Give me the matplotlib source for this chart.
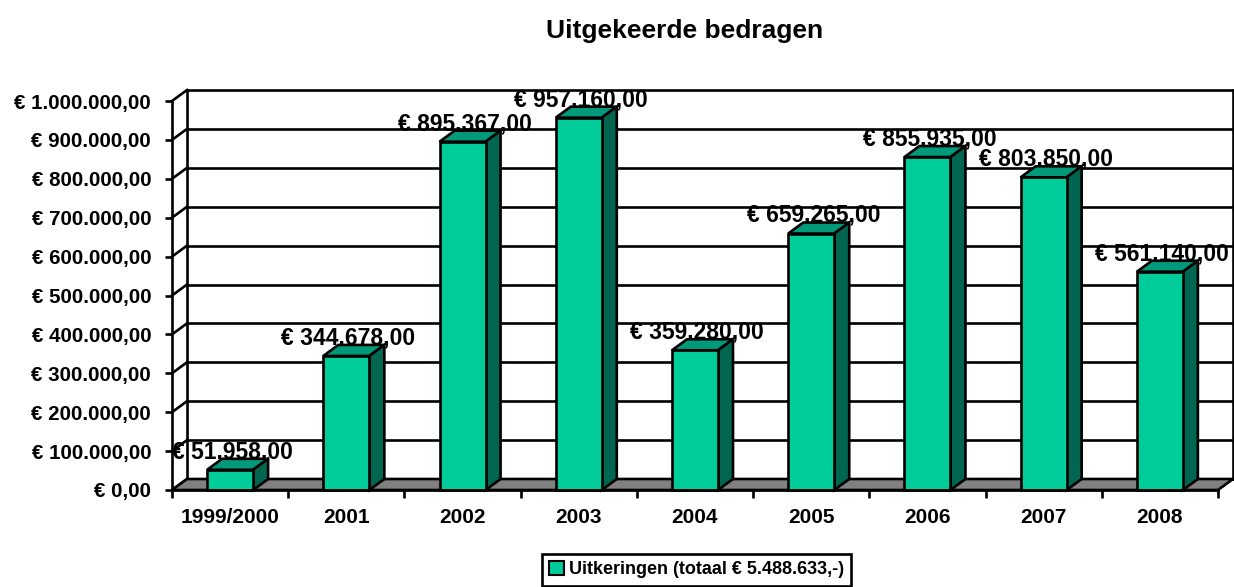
import matplotlib.pyplot as plt
from matplotlib.patches import Polygon, Patch
from matplotlib.ticker import FuncFormatter, FixedLocator

# dati
jaren = ['1999/2000', '2001', '2002', '2003', '2004', '2005', '2006', '2007', '2008']
bedragen = [51958, 344678, 895367, 957160, 359280, 659265, 855935, 803850, 561140]
y_ticks = [0, 100000, 200000, 300000, 400000, 500000, 600000, 700000, 800000, 900000, 1000000]
titolo = 'Uitgekeerde bedragen'
legenda = 'Uitkeringen (totaal € 5.488.633,-)'

plt.rcParams['font.family'] = ['Liberation Sans', 'DejaVu Sans']
plt.rcParams['font.weight'] = 'bold'

verde = '#00CC99'
verde_top = '#00997A'
verde_side = '#006650'
grigio = '#808080'
lw = 1.9


def euro(v, pos=None):
    s = f'{int(round(v)):,}'.replace(',', '.')
    return f'€ {s},00'


fig = plt.figure(figsize=(12.34, 5.87), dpi=100)
W, H = 1234, 587
x0, x1, y0, y1 = 172, 1218, 490, 101
ax = fig.add_axes([x0 / W, 1 - y0 / H, (x1 - x0) / W, (y0 - y1) / H])
n = len(jaren)
ax.set_xlim(0, n)
ax.set_ylim(0, 1000000)

# profondita' 3D in unita' dati
dx = 15 / ((x1 - x0) / n)
dy = 11 / (y0 - y1) * 1000000

# parete di fondo con griglia
for v in y_ticks:
    ax.plot([dx, n + dx], [v + dy, v + dy], color='black', lw=lw, clip_on=False, zorder=1)
    ax.plot([0, dx], [v, v + dy], color='black', lw=lw, clip_on=False, zorder=1)
ax.plot([dx, dx], [dy, 1000000 + dy], color='black', lw=lw, clip_on=False, zorder=1)
ax.plot([n + dx, n + dx], [dy, 1000000 + dy], color='black', lw=lw, clip_on=False, zorder=1)

# pavimento
ax.add_patch(Polygon([(0, 0), (n, 0), (n + dx, dy), (dx, dy)], closed=True,
                     facecolor=grigio, edgecolor='black', lw=lw, clip_on=False, zorder=2))

# barre
bw = 46 / ((x1 - x0) / n)
xs = [i + 0.5 for i in range(n)]
ax.bar(xs, bedragen, width=bw, color=verde, edgecolor='black', linewidth=lw, zorder=4, clip_on=False)
for x, v in zip(xs, bedragen):
    l, r = x - bw / 2, x + bw / 2
    ax.add_patch(Polygon([(l, v), (r, v), (r + dx, v + dy), (l + dx, v + dy)], closed=True,
                         facecolor=verde_top, edgecolor='black', lw=lw, clip_on=False, zorder=3))
    ax.add_patch(Polygon([(r, 0), (r + dx, dy), (r + dx, v + dy), (r, v)], closed=True,
                         facecolor=verde_side, edgecolor='black', lw=lw, clip_on=False, zorder=3))
    ax.annotate(euro(v), (x, v), xytext=(1.5, 13), textcoords='offset points',
                ha='center', va='center', fontsize=16.5, fontweight='bold', zorder=6,
                annotation_clip=False)

# assi
for s in ['top', 'right']:
    ax.spines[s].set_visible(False)
ax.spines['left'].set_linewidth(lw)
ax.spines['bottom'].set_linewidth(lw)
ax.spines['left'].set_zorder(5)
ax.spines['bottom'].set_zorder(5)
ax.set_yticks(y_ticks)
ax.yaxis.set_major_formatter(FuncFormatter(euro))
ax.tick_params(axis='y', length=5, width=lw, labelsize=14.8, pad=10)
ax.set_xticks(xs)
ax.set_xticklabels(jaren, fontsize=15, fontweight='bold')
ax.xaxis.set_minor_locator(FixedLocator(list(range(n + 1))))
ax.tick_params(axis='x', which='major', length=0, pad=13)
ax.tick_params(axis='x', which='minor', length=6, width=lw)
for t in ax.get_yticklabels():
    t.set_fontweight('bold')
ax.patch.set_visible(False)

fig.text(685 / W, 1 - 31 / H, titolo, ha='center', va='center', fontsize=19, fontweight='bold')

leg = fig.legend(handles=[Patch(facecolor=verde, edgecolor='black', linewidth=1.5)], labels=[legenda],
                 loc='upper left', bbox_to_anchor=(542 / W, 1 - 554 / H), fancybox=False,
                 edgecolor='black', framealpha=1, fontsize=13, handlelength=0.8, handleheight=0.8,
                 handletextpad=0.3, borderpad=0.4, borderaxespad=0)
leg.get_frame().set_linewidth(lw)
for t in leg.get_texts():
    t.set_fontweight('bold')

fig.savefig('out.png', dpi=100)
